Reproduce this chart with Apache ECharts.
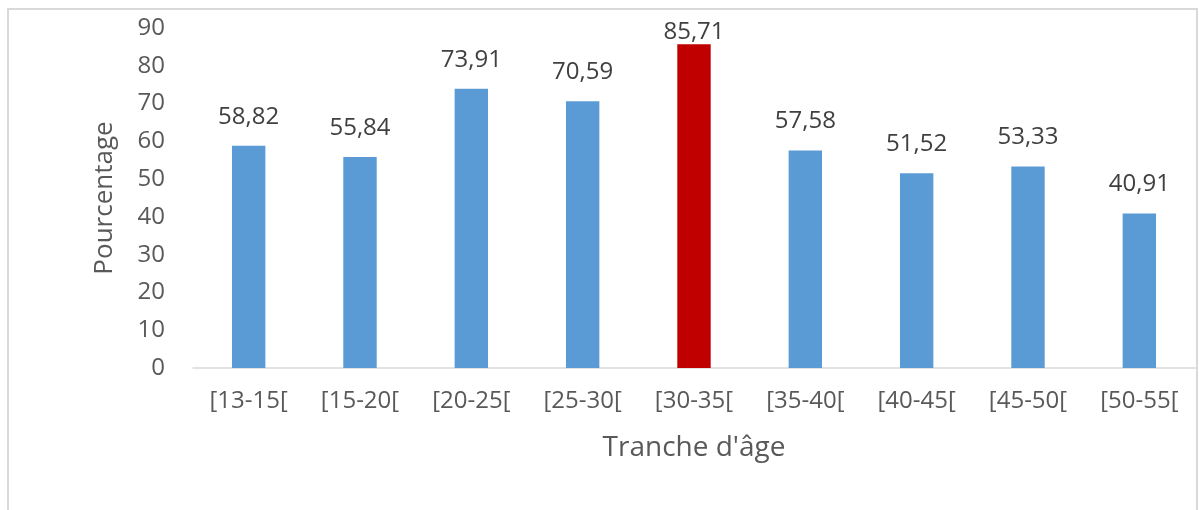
<!DOCTYPE html>
<html>
<head>
<meta charset="utf-8">
<script src="https://cdn.jsdelivr.net/npm/echarts@6/dist/echarts.min.js"></script>
<style>
	html, body { margin: 0; padding: 0; background: #fff; }
	#main { width: 1199px; height: 510px; }
</style>
</head>
<body>
<div id="main"></div>
<script>
var categories = ['[13-15[', '[15-20[', '[20-25[', '[25-30[', '[30-35[', '[35-40[', '[40-45[', '[45-50[', '[50-55['];
var values = [58.82, 55.84, 73.91, 70.59, 85.71, 57.58, 51.52, 53.33, 40.91];
var highlightIndex = 4;
var yTicks = [0, 90, 10];

var myChart = echarts.init(document.getElementById('main'));
var font = 'Open Sans';
var textGrey = '#595959';

// la barre mise en avant est rouge, son étiquette colle à la barre (manque de place en haut)
var barData = values.map(function(v, i) {
	var hi = i === highlightIndex;
	return {
		value : v,
		itemStyle : { color : hi ? '#C00000' : '#5B9BD5' },
		label : { distance : hi ? 0 : 17 }
	};
});

var option = {
	animation : false,
	backgroundColor : '#fff',
	graphic : [ {
		type : 'rect',
		shape : { x : 8, y : 9, width : 1189, height : 520 },
		style : { fill : 'none', stroke : '#d9d9d9', lineWidth : 2 },
		silent : true
	} ],
	grid : {
		left : 193,
		right : 4,
		top : 28,
		bottom : 142
	},
	xAxis : {
		type : 'category',
		data : categories,
		name : "Tranche d'âge",
		nameLocation : 'middle',
		nameGap : 66,
		nameTextStyle : { fontFamily : font, fontSize : 28, color : textGrey },
		axisLine : { lineStyle : { color : '#d9d9d9', width : 1.5 } },
		axisTick : { show : false },
		axisLabel : { fontFamily : font, fontSize : 24, color : textGrey, margin : 21, interval : 0 }
	},
	yAxis : {
		type : 'value',
		min : yTicks[0],
		max : yTicks[1],
		interval : yTicks[2],
		name : 'Pourcentage',
		nameLocation : 'middle',
		nameGap : 75,
		nameTextStyle : { fontFamily : font, fontSize : 26, color : textGrey },
		axisLine : { show : false },
		axisTick : { show : false },
		splitLine : { show : false },
		axisLabel : { fontFamily : font, fontSize : 24, color : textGrey, margin : 28 }
	},
	series : [ {
		type : 'bar',
		data : barData,
		barWidth : '30%',
		label : {
			show : true,
			position : 'top',
			fontFamily : font,
			fontSize : 24,
			color : '#404040',
			formatter : function(p) {
				return p.value.toFixed(2).replace('.', ',');
			}
		}
	} ]
};

myChart.setOption(option);
</script>
</body>
</html>
